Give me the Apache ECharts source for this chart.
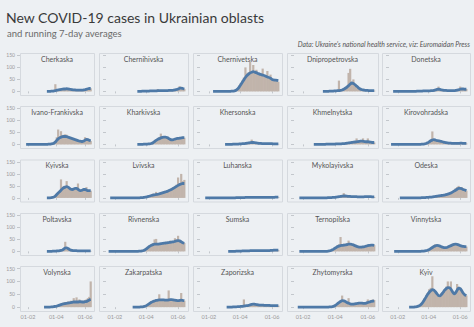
<!DOCTYPE html>
<html><head><meta charset="utf-8">
<script src="https://cdn.jsdelivr.net/npm/echarts@6/dist/echarts.min.js"></script>
<style>html,body{margin:0;padding:0;background:#edf0f3}#c{width:474px;height:327px}</style>
</head><body><div id="c"></div>
<script>
const _ = null;
const oblasts = ['Cherkaska','Chernihivska','Chernivetska','Dnipropetrovska','Donetska',
  'Ivano-Frankivska','Kharkivska','Khersonska','Khmelnytska','Kirovohradska',
  'Kyivska','Lvivska','Luhanska','Mykolayivska','Odeska',
  'Poltavska','Rivnenska','Sumska','Ternopilska','Vinnytska',
  'Volynska','Zakarpatska','Zaporizska','Zhytomyrska','Kyiv'];
const dates = ['2020-03-03','2020-03-06','2020-03-09','2020-03-12','2020-03-15','2020-03-18','2020-03-21','2020-03-24','2020-03-27','2020-03-30',
  '2020-04-02','2020-04-05','2020-04-08','2020-04-11','2020-04-14','2020-04-17','2020-04-20','2020-04-23','2020-04-26','2020-04-29',
  '2020-05-02','2020-05-05','2020-05-08','2020-05-11','2020-05-14','2020-05-17','2020-05-20','2020-05-23','2020-05-26','2020-05-29',
  '2020-06-01','2020-06-04','2020-06-07','2020-06-10','2020-06-13'];
const lineStart = [_,_,'2020-02-09',_,'2020-01-23',
  '2020-01-28',_,_,'2020-02-21','2020-01-19',
  _,'2020-01-23','2020-01-25','2020-01-25','2020-02-05',
  _,'2020-01-20',_,'2020-01-25','2020-01-25',
  _,_,_,'2020-01-22','2020-02-23'];
const xTickDates = ['2020-02-01','2020-04-01','2020-06-01'];
const xTickLabels = ['01-02','01-04','01-06'];
const yTicks = [0,50,100,150];

const casesCherkaska = [_,_,_,0,0,1,1,2,3,30,6,8,6,10,9,12,10,14,11,9,7,8,6,5,6,4,5,6,5,7,8,10,14,12,13];
const avgCherkaska   = [_,_,_,0,0,0,1,1,2,3,5,6,7,8,9,10,10,11,10,9,8,7,6,6,5,5,5,5,5,6,7,9,11,12,12];
const casesChernihivska = [_,_,_,_,0,0,0,1,1,2,1,2,2,3,2,3,2,10,3,3,4,3,3,4,5,4,5,6,8,10,12,22,16,12,10];
const avgChernihivska   = [_,_,_,_,0,0,0,1,1,1,1,1,2,2,2,2,2,3,3,3,3,3,3,3,4,4,4,5,6,8,10,13,14,12,10];
const casesChernivetska = [0,0,0,1,1,2,3,7,14,25,35,45,58,100,75,80,124,85,110,78,90,72,70,68,95,60,62,85,55,70,45,50,44,48,40];
const avgChernivetska   = [0,0,0,0,1,1,2,5,10,18,28,38,48,58,66,72,77,80,82,80,78,75,72,70,68,66,63,60,58,55,50,48,47,46,45];
const casesDnipropetrovska = [_,_,0,0,0,1,1,2,1,3,2,4,45,5,8,12,18,22,77,94,40,50,30,25,18,12,9,6,5,4,5,3,4,2,3];
const avgDnipropetrovska   = [_,_,0,0,0,0,1,1,1,2,2,3,3,4,6,9,13,18,24,30,35,33,28,22,16,11,8,6,5,4,4,3,3,3,3];
const casesDonetska = [0,1,1,1,2,1,2,3,2,2,3,3,4,5,8,12,20,9,6,5,4,5,3,3,4,3,3,5,6,9,20,10,12,9,10];
const avgDonetska   = [0,0,1,1,1,1,2,2,2,2,2,3,3,4,6,8,9,8,6,5,4,4,3,3,3,3,3,4,5,7,9,10,10,9,9];
const casesIvanoFrankivska = [0,0,0,1,1,2,3,4,7,14,30,62,35,55,38,40,42,40,30,28,26,25,24,20,18,18,16,14,12,15,30,24,22,18,14];
const avgIvanoFrankivska   = [0,0,0,0,1,1,2,3,5,10,17,23,27,30,32,33,33,32,30,28,26,24,22,20,18,16,14,13,12,14,18,21,20,17,15];
const casesKharkivska = [_,_,_,_,0,0,0,1,1,2,1,2,3,6,10,15,20,25,30,45,32,35,28,30,22,20,18,22,25,28,26,30,29,32,28];
const avgKharkivska   = [_,_,_,_,0,0,0,0,1,1,1,2,2,4,7,12,17,21,24,27,29,30,30,28,25,21,19,20,22,24,25,26,27,28,28];
const casesKhersonska = [0,0,0,0,1,1,1,2,1,2,3,3,4,5,6,8,10,20,9,7,6,5,4,4,3,4,3,3,4,3,3,2,3,2,2];
const avgKhersonska   = [0,0,0,0,0,1,1,1,1,2,2,3,3,4,5,6,7,8,8,7,6,5,4,4,3,3,3,3,3,3,3,2,2,2,2];
const casesKhmelnytska = [0,0,0,1,1,1,2,1,1,2,2,3,2,3,4,4,5,6,8,9,10,12,11,25,14,15,14,25,12,12,25,11,10,9,8];
const avgKhmelnytska   = [0,0,0,0,1,1,1,1,1,1,2,2,2,2,3,3,4,5,6,7,8,9,10,11,12,13,14,13,12,11,11,10,9,8,8];
const casesKirovohradska = [0,0,0,0,1,1,2,3,5,9,14,20,54,22,20,16,18,14,12,10,9,7,6,6,5,5,4,5,4,5,6,5,4,3,4];
const avgKirovohradska   = [0,0,0,0,0,1,1,2,4,7,11,15,18,20,18,16,15,14,12,10,8,7,6,5,5,4,4,4,4,4,5,5,4,4,4];
const casesKyivska = [_,_,_,0,0,1,1,3,5,10,18,25,30,77,45,50,48,70,48,40,38,36,40,42,44,60,32,30,34,36,38,45,32,28,30];
const avgKyivska   = [_,_,_,0,0,0,1,2,4,8,14,20,26,32,38,42,45,47,45,40,36,35,37,40,40,36,32,30,32,35,35,33,30,30,30];
const casesLvivska = [0,0,0,0,1,1,1,2,3,4,5,7,10,12,18,15,25,16,20,22,24,26,28,30,34,36,40,45,50,55,85,62,100,70,75];
const avgLvivska   = [0,0,0,0,0,0,1,1,2,3,4,6,8,10,12,13,14,15,17,19,21,23,25,27,30,33,36,40,44,48,52,56,58,60,60];
const casesLuhanska = [0,0,0,0,0,1,0,1,1,2,1,1,2,2,3,2,2,3,2,2,3,2,2,3,2,2,3,2,2,3,2,2,4,3,3];
const avgLuhanska   = [0,0,0,0,0,0,0,1,1,1,1,1,1,2,2,2,2,2,2,2,2,2,2,2,2,2,2,2,2,2,2,2,3,3,3];
const casesMykolayivska = [0,0,0,1,1,1,2,1,2,3,4,5,6,8,9,20,10,8,7,6,5,6,5,5,4,5,4,4,6,5,6,5,5,4,4];
const avgMykolayivska   = [0,0,0,0,0,1,1,1,2,2,3,4,5,6,7,8,8,7,6,6,5,5,5,5,4,4,4,4,5,5,5,5,5,4,4];
const casesOdeska = [0,0,0,0,1,1,1,2,2,3,3,4,5,6,7,8,9,10,12,12,14,16,18,20,24,28,32,40,45,50,42,45,38,35,30];
const avgOdeska   = [0,0,0,0,0,1,1,1,2,2,3,3,4,5,6,7,8,9,10,11,12,14,16,18,20,24,28,32,36,40,40,38,35,33,30];
const casesPoltavska = [_,_,_,0,0,0,1,1,1,2,2,3,4,5,8,12,40,18,12,8,5,4,3,3,3,2,2,3,2,2,2,3,2,2,2];
const avgPoltavska   = [_,_,_,0,0,0,0,1,1,1,2,2,3,4,6,10,14,15,12,8,5,4,3,3,3,2,2,2,2,2,2,2,2,2,2];
const casesRivnenska = [0,0,0,0,1,1,2,3,5,9,15,20,25,30,35,50,52,30,32,34,36,38,35,40,38,45,40,42,55,50,65,45,42,38,35];
const avgRivnenska   = [0,0,0,0,0,1,1,2,4,7,12,17,22,26,28,30,30,30,31,32,33,34,35,36,37,38,39,40,42,44,45,44,40,36,34];
const casesSumska = [_,_,0,0,0,0,1,1,1,2,1,2,2,3,2,2,4,3,3,4,3,3,4,3,3,4,3,3,4,4,5,6,5,6,5];
const avgSumska   = [_,_,0,0,0,0,0,1,1,1,1,2,2,2,2,2,3,3,3,3,3,3,3,3,3,3,3,3,3,4,4,5,5,5,5];
const casesTernopilska = [_,_,0,0,1,1,3,5,9,14,18,25,30,60,30,32,30,35,45,32,30,28,25,22,20,18,20,20,22,25,28,27,30,28,26];
const avgTernopilska   = [_,_,0,0,0,1,2,4,7,11,15,19,22,24,25,26,27,28,30,30,29,27,24,21,19,18,18,19,20,22,24,25,26,26,25];
const casesVinnytska = [0,0,0,1,1,1,2,3,4,6,10,14,20,24,30,28,25,22,20,18,17,18,20,24,28,30,35,32,30,28,26,24,22,21,20];
const avgVinnytska   = [0,0,0,0,0,1,1,2,3,5,8,12,16,20,23,25,24,22,19,17,16,16,18,21,24,27,29,30,29,27,24,22,21,20,20];
const casesVolynska = [_,0,0,0,0,1,1,2,3,4,5,8,10,12,15,18,20,16,22,18,25,20,35,22,38,25,30,22,25,24,28,30,35,40,100];
const avgVolynska   = [_,0,0,0,0,0,1,1,2,3,4,6,8,10,12,13,14,15,16,17,18,19,20,20,20,20,21,21,20,20,21,22,25,28,30];
const casesZakarpatska = [_,0,0,0,0,1,1,2,3,5,9,14,18,22,25,28,30,30,50,30,32,30,28,30,65,32,30,28,26,28,26,30,55,28,25];
const avgZakarpatska   = [_,0,0,0,0,0,1,1,2,4,7,11,15,19,22,24,26,27,28,28,28,28,27,27,28,29,29,28,27,26,25,26,27,26,25];
const casesZaporizska = [_,0,0,0,1,1,1,2,2,3,3,4,30,6,7,8,10,13,14,12,10,9,8,9,8,7,8,7,7,6,7,6,7,5,6];
const avgZaporizska   = [_,0,0,0,0,1,1,1,2,2,3,3,4,5,6,7,9,11,12,11,10,9,8,8,8,7,7,7,7,6,6,6,6,6,6];
const casesZhytomyrska = [0,0,0,0,0,1,1,2,3,5,10,16,20,25,45,28,24,20,35,15,13,12,14,16,18,20,18,16,15,18,30,22,25,30,28];
const avgZhytomyrska   = [0,0,0,0,0,0,1,1,2,4,8,13,18,22,25,24,22,18,15,13,12,12,13,14,15,16,16,15,15,16,18,20,22,23,24];
const casesKyiv = [0,1,3,5,9,15,25,35,45,55,70,75,120,70,60,55,48,45,55,60,70,80,100,80,100,55,50,60,90,80,75,65,55,50,45];
const avgKyiv   = [0,1,2,4,7,12,20,30,40,50,58,64,68,66,60,52,45,44,50,58,66,72,76,75,70,60,52,56,66,74,72,64,54,48,45];

const casesList = [casesCherkaska,casesChernihivska,casesChernivetska,casesDnipropetrovska,casesDonetska,
  casesIvanoFrankivska,casesKharkivska,casesKhersonska,casesKhmelnytska,casesKirovohradska,
  casesKyivska,casesLvivska,casesLuhanska,casesMykolayivska,casesOdeska,
  casesPoltavska,casesRivnenska,casesSumska,casesTernopilska,casesVinnytska,
  casesVolynska,casesZakarpatska,casesZaporizska,casesZhytomyrska,casesKyiv];
const avgList = [avgCherkaska,avgChernihivska,avgChernivetska,avgDnipropetrovska,avgDonetska,
  avgIvanoFrankivska,avgKharkivska,avgKhersonska,avgKhmelnytska,avgKirovohradska,
  avgKyivska,avgLvivska,avgLuhanska,avgMykolayivska,avgOdeska,
  avgPoltavska,avgRivnenska,avgSumska,avgTernopilska,avgVinnytska,
  avgVolynska,avgZakarpatska,avgZaporizska,avgZhytomyrska,avgKyiv];

function ts(s){ const p = s.split('-').map(Number); return new Date(p[0], p[1]-1, p[2]).getTime(); }
const tickTs = xTickDates.map(ts);

const colPlot = [[20,94],[106,188],[200,282],[294,378],[389,470]];
const colFrame = [20,99,193,287,382];
const rowTop = [53,106,159.5,213,266];
const rowH = [42,42,42,42,45];
const FONT = 'Lato, "Open Sans", sans-serif';

const grids=[], xAxes=[], yAxes=[], series=[], graphics=[];
graphics.push({type:'text', x:6, y:17, style:{text:'New COVID-19 cases in Ukrainian oblasts', fill:'#3a3a3a', font:'14px '+FONT, align:'left', verticalAlign:'middle'}});
graphics.push({type:'text', x:7, y:33, style:{text:'and running 7-day averages', fill:'#6a6a6a', font:'9.5px '+FONT, align:'left', verticalAlign:'middle'}});
graphics.push({type:'text', x:470, y:43.5, style:{text:"Data: Ukraine's national health service, viz: Euromaidan Press", fill:'#555', font:'italic 6.8px '+FONT, align:'right', verticalAlign:'middle'}});

oblasts.forEach((name, i) => {
  const r = Math.floor(i/5), c = i%5;
  const left = colPlot[c][0], right = colPlot[c][1];
  grids.push({left:left, top:rowTop[r], width:right-left, height:rowH[r], show:false});
  graphics.push({type:'rect', z:-10, shape:{x:colFrame[c]+0.5, y:rowTop[r]+0.5, width:right-colFrame[c], height:rowH[r]},
    style:{fill:'none', stroke:'#d5d9de', lineWidth:1}});
  graphics.push({type:'text', x:(colFrame[c]+right)/2, y:rowTop[r]+5.5,
    style:{text:name, fill:'#555', font:'7px '+FONT, align:'center', verticalAlign:'middle'}});
  xAxes.push({type:'value', gridIndex:i, min:ts('2020-01-15'), max:ts('2020-06-20'),
    axisLine:{show:false}, splitLine:{show:false},
    axisTick:{show:true, length:2, customValues:tickTs, lineStyle:{color:'#c3c7cc'}},
    axisLabel:{show:r===4, customValues:tickTs, fontSize:5.5, color:'#999', margin:3, fontFamily:FONT,
      formatter:(v)=>{ const k = tickTs.indexOf(v); return k>=0 ? xTickLabels[k] : ''; }}});
  yAxes.push({type:'value', gridIndex:i, min:-15, max:160,
    axisLine:{show:false}, splitLine:{show:false},
    axisTick:{show:true, length:3, customValues:yTicks, lineStyle:{color:'#c3c7cc'}},
    axisLabel:{show:c===0, customValues:yTicks, fontSize:5, color:'#999', margin:5, fontFamily:FONT}});
  const bars = [];
  casesList[i].forEach((v,k)=>{ if(v!==null) bars.push([ts(dates[k]), v]); });
  const line = [];
  if (lineStart[i]) line.push([ts(lineStart[i]), 0]);
  avgList[i].forEach((v,k)=>{ if(v!==null) line.push([ts(dates[k]), v]); });
  series.push({type:'bar', xAxisIndex:i, yAxisIndex:i, data:bars, barWidth:2.2, silent:true,
    itemStyle:{color:'#c1b4ab'}, z:2});
  series.push({type:'line', xAxisIndex:i, yAxisIndex:i, data:line, symbol:'none', showSymbol:false,
    smooth:0.3, silent:true, lineStyle:{color:'#4e79a7', width:2.8}, z:3});
});

const chart = echarts.init(document.getElementById('c'), null, {renderer:'svg'});
chart.setOption({
  backgroundColor:'#edf0f3', animation:false,
  grid:grids, xAxis:xAxes, yAxis:yAxes, series:series, graphic:graphics
});
</script></body></html>
